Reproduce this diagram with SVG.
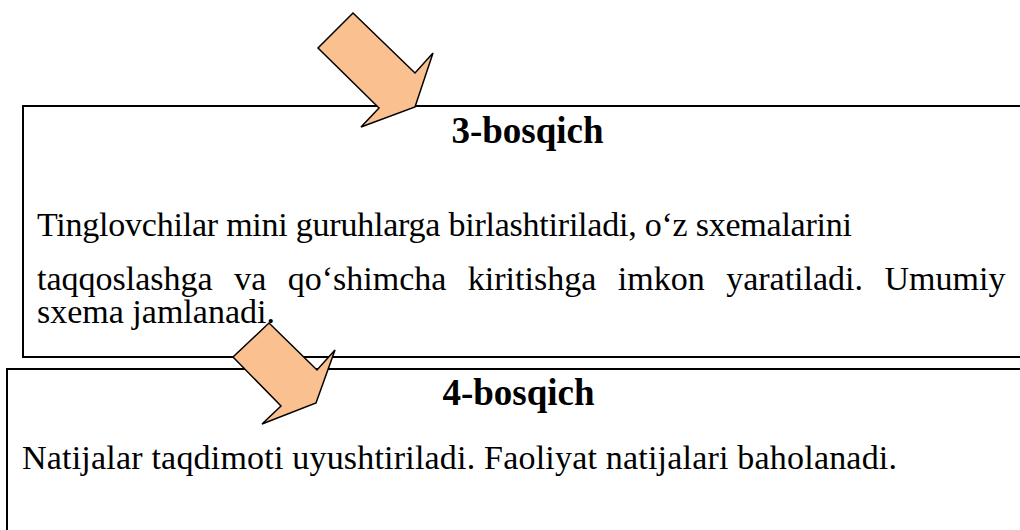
<svg xmlns="http://www.w3.org/2000/svg" width="1020" height="530" viewBox="0 0 1020 530">
<style>
.box{fill:#fff;stroke:#000;stroke-width:2}
.arrow{fill:#FAC090;stroke:#000;stroke-width:1.5;stroke-linejoin:miter}
.h{font-family:"Liberation Serif","Times New Roman",serif;font-weight:bold;font-size:37px;fill:#000}
.t{font-family:"Liberation Serif","Times New Roman",serif;font-size:34px;fill:#000}
</style>
<rect width="1020" height="530" fill="#fff"/>
<g id="step3">
<rect class="box" x="23" y="106" width="1010" height="251"/>
<text class="h" x="527.5" y="143" text-anchor="middle">3-bosqich</text>
<text class="t" x="37" y="236" textLength="815" lengthAdjust="spacing">Tinglovchilar mini guruhlarga birlashtiriladi, o‘z sxemalarini</text>
<text class="t" x="37" y="290" word-spacing="13">taqqoslashga va qo‘shimcha kiritishga imkon yaratiladi. Umumiy</text>
<text class="t" x="37" y="323">sxema jamlanadi.</text>
</g>
<g id="step4">
<rect class="box" x="7" y="369" width="1030" height="200"/>
<text class="h" x="518.5" y="405" text-anchor="middle">4-bosqich</text>
<text class="t" x="22" y="469" textLength="875" lengthAdjust="spacing">Natijalar taqdimoti uyushtiriladi. Faoliyat natijalari baholanadi.</text>
</g>
<g id="connectors">
<polygon class="arrow" points="353,13 415,73 433,53 415,107 361,127 379,108 318,48"/>
<polygon class="arrow" points="269,323 317,370 335,350 316,403 262,424 281,406 233,357"/>
</g>
</svg>
